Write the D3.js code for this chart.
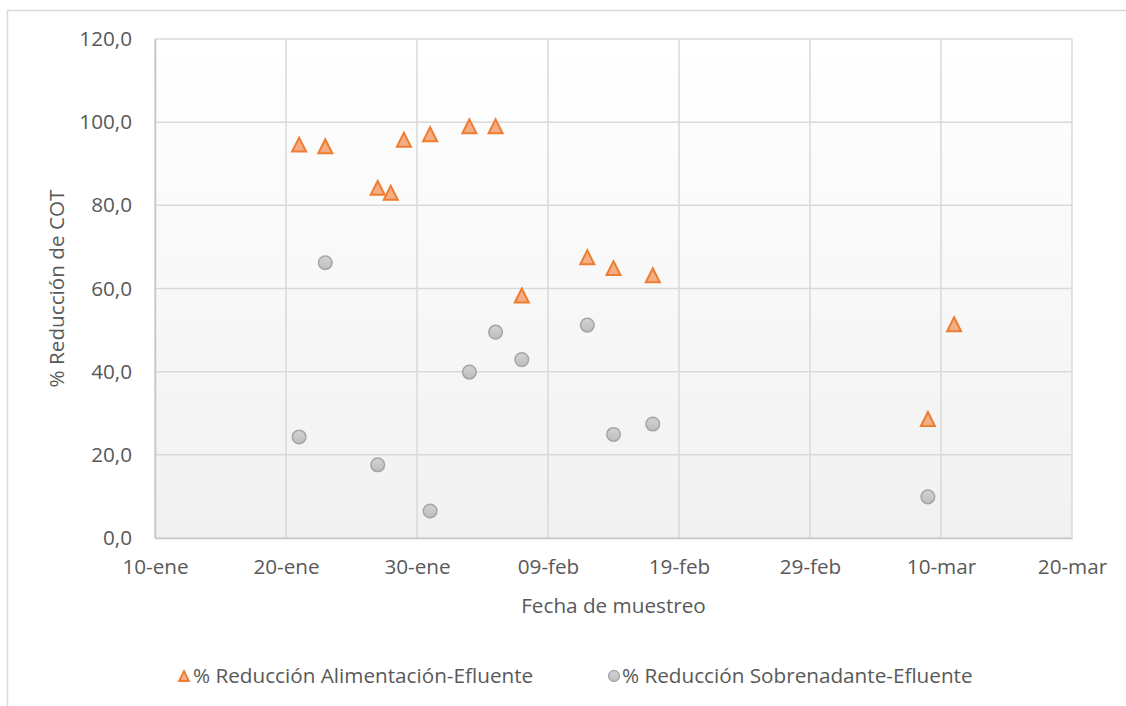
<!DOCTYPE html>
<html>
<head>
<meta charset="utf-8">
<script src="https://cdn.jsdelivr.net/npm/d3@7"></script>
<style>
  html, body { margin: 0; padding: 0; background: #ffffff; }
  svg { display: block; }
  text { font-family: "Open Sans", sans-serif; fill: #595959; }
</style>
</head>
<body>
<svg id="chart" width="1126" height="706"></svg>
<script>
// Fechas de muestreo (2020) y % de reducción de COT por serie
const fechasAlimentacion = ["2020-01-21","2020-01-23","2020-01-27","2020-01-28","2020-01-29","2020-01-31","2020-02-03","2020-02-05","2020-02-07","2020-02-12","2020-02-14","2020-02-17","2020-03-09","2020-03-11"];
const reduccionAlimentacion = [94.6, 94.2, 84.2, 83.0, 95.8, 97.1, 99.0, 99.0, 58.3, 67.5, 64.9, 63.2, 28.6, 51.4];

const fechasSobrenadante = ["2020-01-21","2020-01-23","2020-01-27","2020-01-31","2020-02-03","2020-02-05","2020-02-07","2020-02-12","2020-02-14","2020-02-17","2020-03-09"];
const reduccionSobrenadante = [24.3, 66.2, 17.6, 6.5, 39.9, 49.5, 42.9, 51.2, 24.9, 27.4, 9.9];

const serieNombres = ["% Reducción Alimentación-Efluente", "% Reducción Sobrenadante-Efluente"];

// Marcas del eje X (cada 10 días) y del eje Y
const fechasMarcas = ["2020-01-10","2020-01-20","2020-01-30","2020-02-09","2020-02-19","2020-02-29","2020-03-10","2020-03-20"];
const etiquetasMarcas = ["10-ene","20-ene","30-ene","09-feb","19-feb","29-feb","10-mar","20-mar"];
const valoresY = [0, 20, 40, 60, 80, 100, 120];

const parse = d3.utcParse("%Y-%m-%d");
const svg = d3.select("#chart");
const FS = 20.7;

const plot = { left: 155, right: 1072, top: 39, bottom: 538 };

const x = d3.scaleUtc()
  .domain([parse(fechasMarcas[0]), parse(fechasMarcas[fechasMarcas.length - 1])])
  .range([plot.left, plot.right]);
const y = d3.scaleLinear().domain([0, 120]).range([plot.bottom, plot.top]);

const defs = svg.append("defs");
const bg = defs.append("linearGradient").attr("id", "fondo").attr("x1", 0).attr("y1", 0).attr("x2", 0).attr("y2", 1);
bg.append("stop").attr("offset", "0%").attr("stop-color", "#ffffff");
bg.append("stop").attr("offset", "100%").attr("stop-color", "#f1f1f1");
const gc = defs.append("linearGradient").attr("id", "gris").attr("x1", 0).attr("y1", 0).attr("x2", 0).attr("y2", 1);
gc.append("stop").attr("offset", "0%").attr("stop-color", "#d4d4d4");
gc.append("stop").attr("offset", "100%").attr("stop-color", "#bdbdbd");

// Borde exterior del gráfico (superior e izquierdo)
svg.append("path")
  .attr("d", "M7.5,706 L7.5,10.5 L1126,10.5")
  .attr("fill", "none").attr("stroke", "#d9d9d9").attr("stroke-width", 1.5);

// Fondo del área de trazado
svg.append("rect")
  .attr("x", plot.left).attr("y", plot.top)
  .attr("width", plot.right - plot.left).attr("height", plot.bottom - plot.top)
  .attr("fill", "url(#fondo)");

// Cuadrícula
const grid = svg.append("g").attr("stroke", "#d9d9d9").attr("stroke-width", 1.5);
grid.selectAll("line.v").data(fechasMarcas).join("line")
  .attr("x1", d => x(parse(d))).attr("x2", d => x(parse(d)))
  .attr("y1", plot.top).attr("y2", plot.bottom);
grid.selectAll("line.h").data(valoresY).join("line")
  .attr("x1", plot.left).attr("x2", plot.right)
  .attr("y1", d => y(d)).attr("y2", d => y(d));

// Ejes
const fmt = d3.format(".1f");
const ejeX = d3.axisBottom(x)
  .tickValues(fechasMarcas.map(parse))
  .tickFormat((d, i) => etiquetasMarcas[i])
  .tickSize(0).tickPadding(21);
const gx = svg.append("g").attr("transform", `translate(0,${plot.bottom})`).call(ejeX);
gx.select(".domain").attr("stroke", "#c6c6c6").attr("stroke-width", 1.5);
gx.selectAll("text").attr("font-size", FS).attr("fill", "#595959")
  .attr("font-family", "'Open Sans', sans-serif");

const ejeY = d3.axisLeft(y)
  .tickValues(valoresY)
  .tickFormat(d => fmt(d).replace(".", ","))
  .tickSize(0).tickPadding(23);
const gy = svg.append("g").attr("transform", `translate(${plot.left},0)`).call(ejeY);
gy.select(".domain").attr("stroke", "#c6c6c6").attr("stroke-width", 1.5);
gy.selectAll("text").attr("font-size", FS).attr("fill", "#595959")
  .attr("font-family", "'Open Sans', sans-serif");

// Títulos de los ejes
svg.append("text")
  .attr("x", (plot.left + plot.right) / 2).attr("y", 613)
  .attr("text-anchor", "middle").attr("font-size", FS)
  .text("Fecha de muestreo");
svg.append("text")
  .attr("transform", `translate(64,${(plot.top + plot.bottom) / 2}) rotate(-90)`)
  .attr("text-anchor", "middle").attr("font-size", FS)
  .text("% Reducción de COT");

// Marcadores
const triangulo = s => `M0,${-s / 2}L${s / 2},${s / 2}L${-s / 2},${s / 2}Z`;

const datosSob = fechasSobrenadante.map((f, i) => ({ fecha: parse(f), valor: reduccionSobrenadante[i] }));
const datosAli = fechasAlimentacion.map((f, i) => ({ fecha: parse(f), valor: reduccionAlimentacion[i] }));

svg.append("g").selectAll("circle").data(datosSob).join("circle")
  .attr("cx", d => x(d.fecha)).attr("cy", d => y(d.valor)).attr("r", 6.8)
  .attr("fill", "url(#gris)").attr("stroke", "#a5a5a5").attr("stroke-width", 1.5);

svg.append("g").selectAll("path").data(datosAli).join("path")
  .attr("transform", d => `translate(${x(d.fecha)},${y(d.valor)})`)
  .attr("d", triangulo(14))
  .attr("fill", "#f5ad85").attr("stroke", "#ed7d31").attr("stroke-width", 2).attr("stroke-linejoin", "miter");

// Leyenda
const ley = svg.append("g").attr("transform", "translate(0,676)");
ley.append("path").attr("transform", "translate(184,0)").attr("d", triangulo(10))
  .attr("fill", "#f5ad85").attr("stroke", "#ed7d31").attr("stroke-width", 1.8);
ley.append("text").attr("x", 193).attr("y", 7).attr("font-size", FS).text(serieNombres[0]);
ley.append("circle").attr("cx", 614).attr("cy", 0).attr("r", 5.5)
  .attr("fill", "url(#gris)").attr("stroke", "#a5a5a5").attr("stroke-width", 1.3);
ley.append("text").attr("x", 622).attr("y", 7).attr("font-size", FS).text(serieNombres[1]);
</script>
</body>
</html>
